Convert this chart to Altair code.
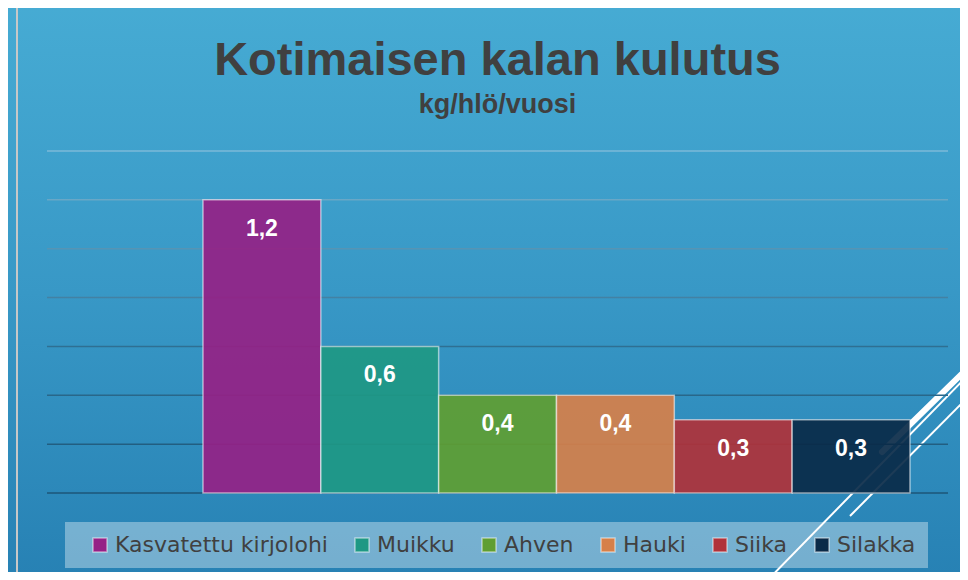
import altair as alt
import pandas as pd

# ---- data ----
fish = ["Kasvatettu kirjolohi", "Muikku", "Ahven", "Hauki", "Siika", "Silakka"]
kulutus = [1.2, 0.6, 0.4, 0.4, 0.3, 0.3]
colors = ["#952186", "#1e9884", "#609e32", "#d6804a", "#b0323a", "#0a2a48"]
grid_values = [0, 0.2, 0.4, 0.6, 0.8, 1.0, 1.2, 1.4]

df = pd.DataFrame({"kala": fish, "kulutus": kulutus})
grid_df = pd.DataFrame({"v": grid_values})
one = pd.DataFrame({"a": [0]})

W, H = 901, 342
TOP = -160  # top of the decorative background, relative to the plot area

xscale = alt.Scale(domain=fish, paddingInner=0, paddingOuter=0.8233, align=0.804)
yscale = alt.Scale(domain=[0, 1.4], nice=False, zero=True)

# decorative background gradient
bg = alt.Chart(one).mark_rect(
    fill=alt.Gradient(
        gradient="linear", x1=0, y1=0, x2=0, y2=1,
        stops=[alt.GradientStop(color="#47acd4", offset=0),
               alt.GradientStop(color="#3898c6", offset=0.5),
               alt.GradientStop(color="#2680b3", offset=1)]
    )
).encode(x=alt.value(-60), x2=alt.value(W + 60), y=alt.value(TOP), y2=alt.value(H + 100))

# decorative slide frame line on left
frame = alt.Chart(one).mark_rule(color="#c8c8c8", strokeWidth=2).encode(
    x=alt.value(-30), y=alt.value(TOP + 5), y2=alt.value(H + 100)
)

# decorative diagonal lines (lower right)
deco1 = alt.Chart(one).mark_rule(color="white", strokeWidth=6, strokeCap="round").encode(
    x=alt.value(928), y=alt.value(210), x2=alt.value(835), y2=alt.value(301)
)
deco2 = alt.Chart(one).mark_rule(color="white", strokeWidth=2).encode(
    x=alt.value(928), y=alt.value(217), x2=alt.value(710), y2=alt.value(440)
)
deco3 = alt.Chart(one).mark_rule(color="white", strokeWidth=2).encode(
    x=alt.value(928), y=alt.value(239), x2=alt.value(803), y2=alt.value(365)
)

grid = alt.Chart(grid_df).mark_rule(strokeWidth=1.5).encode(
    y=alt.Y("v:Q", scale=yscale, axis=None),
    x=alt.value(0), x2=alt.value(W),
    stroke=alt.Stroke("v:Q", scale=alt.Scale(domain=[0, 0.6, 1.4], range=["#1c5678", "#2f6f92", "#7cbad8"]), legend=None),
)

bars = alt.Chart(df).mark_bar(
    stroke="rgba(255,255,255,0.55)", strokeWidth=1.5, fillOpacity=0.92
).encode(
    x=alt.X("kala:N", scale=xscale, axis=None, sort=fish),
    y=alt.Y("kulutus:Q", scale=yscale, axis=None),
    color=alt.Color(
        "kala:N",
        scale=alt.Scale(domain=fish, range=colors),
        sort=fish,
        legend=alt.Legend(
            title=None, orient="none", legendX=18, legendY=371,
            direction="horizontal", columns=6,
            fillColor="rgba(255,255,255,0.36)", padding=12,
            symbolType="square", symbolSize=196,
            symbolStrokeColor="rgba(255,255,255,0.5)", symbolStrokeWidth=1.5,
            symbolOpacity=1,
            labelFont="DejaVu Sans", labelFontSize=22, labelColor="#404040",
            labelOffset=4, columnPadding=11, labelLimit=400,
            symbolOffset=12,
        ),
    ),
)

labels = alt.Chart(df).transform_calculate(
    lab="replace(format(datum.kulutus, '.1f'), '.', ',')"
).mark_text(
    color="white", font="Liberation Sans", fontWeight="bold", fontSize=23,
    baseline="alphabetic", dy=36
).encode(
    x=alt.X("kala:N", scale=xscale, axis=None, sort=fish),
    y=alt.Y("kulutus:Q", scale=yscale, axis=None),
    text="lab:N",
)

chart = alt.layer(bg, frame, deco1, deco2, deco3, grid, bars, labels).properties(
    width=W, height=H,
    autosize=alt.AutoSizeParams(type="none"),
    padding={"left": 39, "top": 143, "right": 12, "bottom": 79},
    title=alt.TitleParams(
        text="Kotimaisen kalan kulutus",
        subtitle="kg/hlö/vuosi",
        anchor="middle", frame="group",
        font="Liberation Sans", fontSize=47, fontWeight="bold", color="#404040",
        subtitleFont="Liberation Sans", subtitleFontSize=27, subtitleFontWeight="bold",
        subtitleColor="#404040", subtitlePadding=7, offset=32 + TOP,
    ),
).configure_view(stroke=None).configure(background="#3898c6")

chart.save("out.html", embed_options={"renderer": "svg", "actions": False})
